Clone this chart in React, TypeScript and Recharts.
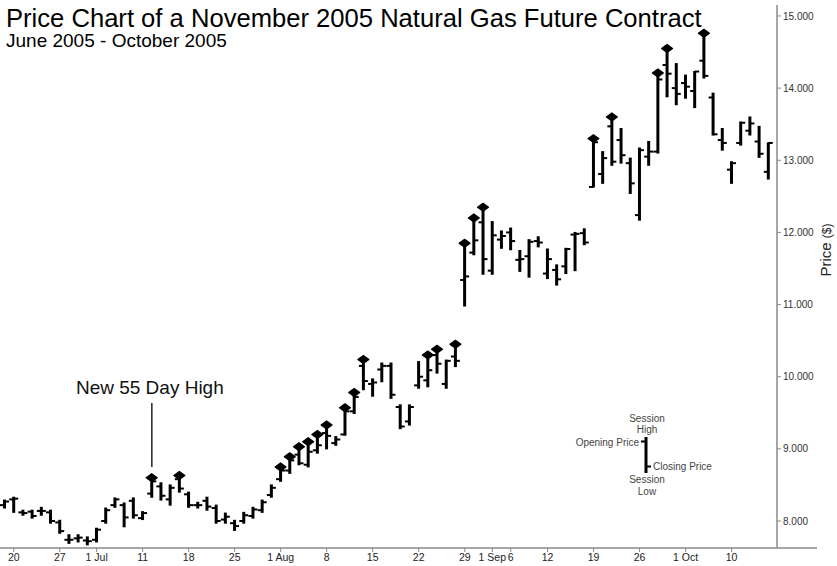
import React from 'react';
import { ComposedChart, Bar, XAxis, YAxis, ReferenceLine } from 'recharts';

const FONT = '"Liberation Sans", Arial, Helvetica, sans-serif';

// Trading days (Jun 17 2005 - Oct 14 2005)
const dates = [
  'Jun 17', 'Jun 20', 'Jun 21', 'Jun 22', 'Jun 23', 'Jun 24', 'Jun 27', 'Jun 28', 'Jun 29', 'Jun 30',
  'Jul 1', 'Jul 5', 'Jul 6', 'Jul 7', 'Jul 8', 'Jul 11', 'Jul 12', 'Jul 13', 'Jul 14', 'Jul 15',
  'Jul 18', 'Jul 19', 'Jul 20', 'Jul 21', 'Jul 22', 'Jul 25', 'Jul 26', 'Jul 27', 'Jul 28', 'Jul 29',
  'Aug 1', 'Aug 2', 'Aug 3', 'Aug 4', 'Aug 5', 'Aug 8', 'Aug 9', 'Aug 10', 'Aug 11', 'Aug 12',
  'Aug 15', 'Aug 16', 'Aug 17', 'Aug 18', 'Aug 19', 'Aug 22', 'Aug 23', 'Aug 24', 'Aug 25', 'Aug 26',
  'Aug 29', 'Aug 30', 'Aug 31', 'Sep 1', 'Sep 2', 'Sep 6', 'Sep 7', 'Sep 8', 'Sep 9', 'Sep 12',
  'Sep 13', 'Sep 14', 'Sep 15', 'Sep 16', 'Sep 19', 'Sep 20', 'Sep 21', 'Sep 22', 'Sep 23', 'Sep 26',
  'Sep 27', 'Sep 28', 'Sep 29', 'Sep 30', 'Oct 3', 'Oct 4', 'Oct 5', 'Oct 6', 'Oct 7', 'Oct 10',
  'Oct 11', 'Oct 12', 'Oct 13', 'Oct 14',
];

const opens = [
  8.22, 8.30, 8.12, 8.13, 8.14, 8.12, 7.98, 7.74, 7.76, 7.73,
  7.74, 8.00, 8.22, 8.22, 8.28, 8.04, 8.38, 8.48, 8.30, 8.58,
  8.37, 8.22, 8.28, 8.18, 8.02, 7.97, 8.00, 8.07, 8.15, 8.36,
  8.58, 8.70, 8.92, 8.78, 8.98, 9.22, 9.08, 9.20, 9.52, 10.15,
  9.90, 10.10, 10.15, 9.58, 9.38, 9.88, 9.95, 10.30, 9.90, 10.28,
  11.34, 11.72, 12.14, 11.47, 11.90, 12.00, 11.62, 11.67, 11.88, 11.43,
  11.48, 11.53, 11.97, 11.99, 12.63, 12.81, 13.47, 13.28, 12.96, 12.24,
  13.05, 13.12, 14.32, 14.00, 14.07, 13.96, 14.38, 13.87, 13.28, 12.87,
  13.24, 13.41, 13.26, 12.84,
];

const highs = [
  8.29, 8.33, 8.15, 8.15, 8.19, 8.15, 8.01, 7.81, 7.81, 7.78,
  7.90, 8.18, 8.32, 8.25, 8.32, 8.13, 8.60, 8.53, 8.50, 8.63,
  8.40, 8.26, 8.33, 8.22, 8.11, 8.01, 8.12, 8.19, 8.29, 8.50,
  8.75, 8.89, 9.03, 9.10, 9.20, 9.33, 9.17, 9.57, 9.78, 10.24,
  9.97, 10.19, 10.19, 9.61, 9.61, 10.21, 10.30, 10.38, 10.23, 10.45,
  11.85, 12.20, 12.35, 12.15, 12.02, 12.06, 11.75, 11.90, 11.94, 11.77,
  11.55, 11.78, 12.00, 12.05, 13.30, 13.12, 13.60, 13.44, 13.03, 13.17,
  13.26, 14.21, 14.55, 14.34, 14.18, 14.23, 14.76, 13.93, 13.44, 12.98,
  13.53, 13.60, 13.47, 13.24,
];

const lows = [
  8.18, 8.12, 8.08, 8.04, 8.08, 7.97, 7.83, 7.69, 7.71, 7.67,
  7.71, 7.97, 8.19, 7.92, 8.04, 8.02, 8.33, 8.29, 8.22, 8.40,
  8.19, 8.18, 8.15, 7.97, 7.97, 7.87, 7.97, 8.04, 8.12, 8.33,
  8.55, 8.66, 8.78, 8.75, 8.94, 9.00, 9.05, 9.19, 9.49, 9.82,
  9.73, 9.93, 9.70, 9.28, 9.33, 9.84, 9.86, 10.05, 9.84, 10.14,
  10.98, 11.69, 11.42, 11.42, 11.78, 11.76, 11.46, 11.38, 11.80, 11.36,
  11.27, 11.43, 11.47, 11.83, 12.63, 12.68, 12.93, 12.96, 12.54, 12.17,
  12.93, 13.10, 13.88, 13.77, 13.86, 13.73, 14.14, 13.35, 13.14, 12.68,
  13.21, 13.35, 13.04, 12.74,
];

const closes = [
  8.27, 8.31, 8.11, 8.07, 8.14, 8.00, 7.86, 7.74, 7.77, 7.72,
  7.88, 8.15, 8.30, 8.05, 8.08, 8.11, 8.55, 8.35, 8.46, 8.45,
  8.22, 8.22, 8.20, 8.00, 8.06, 7.93, 8.08, 8.16, 8.26, 8.46,
  8.70, 8.84, 8.80, 8.96, 9.05, 9.18, 9.13, 9.52, 9.72, 9.94,
  9.92, 10.15, 9.75, 9.31, 9.58, 10.00, 10.09, 10.18, 10.22, 10.22,
  11.39, 11.89, 11.63, 11.96, 11.95, 11.88, 11.63, 11.87, 11.86, 11.63,
  11.35, 11.77, 11.98, 11.86, 13.25, 13.03, 12.98, 13.07, 12.68, 13.14,
  13.12, 14.12, 14.20, 13.92, 14.02, 14.23, 14.17, 13.36, 13.24, 12.96,
  13.52, 13.51, 13.09, 13.24,
];

// Sessions that set a new 55-day high (marked with a diamond)
const newHighDates = [
  'Jul 12', 'Jul 15', 'Aug 1', 'Aug 2', 'Aug 3', 'Aug 4', 'Aug 5', 'Aug 8', 'Aug 10', 'Aug 11',
  'Aug 12', 'Aug 23', 'Aug 24', 'Aug 26', 'Aug 29', 'Aug 30', 'Aug 31', 'Sep 19', 'Sep 21',
  'Sep 28', 'Sep 29', 'Oct 5',
];

const xTickDates = ['Jun 20', 'Jun 27', 'Jul 1', 'Jul 11', 'Jul 18', 'Jul 25', 'Aug 1', 'Aug 8', 'Aug 15',
  'Aug 22', 'Aug 29', 'Sep 1', 'Sep 6', 'Sep 12', 'Sep 19', 'Sep 26', 'Oct 3', 'Oct 10'];
const xTickLabels = ['20', '27', '1 Jul', '11', '18', '25', '1 Aug', '8', '15',
  '22', '29', '1 Sep', '6', '12', '19', '26', '1 Oct', '10'];

const yTicks = [8, 9, 10, 11, 12, 13, 14, 15];
const yDomain: [number, number] = [7.626, 15.152];

const annotationDate = 'Jul 12';
const annotationRange = [8.75, 9.635];

const data = dates.map((d, i) => ({
  date: d,
  open: opens[i],
  high: highs[i],
  low: lows[i],
  close: closes[i],
  range: [lows[i], highs[i]],
  newHigh: newHighDates.includes(d),
}));

const OhlcShape = (props: any) => {
  const { x, y, width, height, payload } = props;
  if (!payload || x == null || y == null) return null;
  const top = Math.min(y, y + height);
  const h = Math.abs(height);
  const cx = x + width / 2;
  const span = payload.high - payload.low || 1;
  const yOf = (v: number) => top + ((payload.high - v) / span) * h;
  const yo = yOf(payload.open);
  const yc = yOf(payload.close);
  return (
    <g>
      <line x1={cx} x2={cx} y1={top - 0.5} y2={top + h + 0.5} stroke="#000" strokeWidth={3} />
      <line x1={cx - 4.5} x2={cx} y1={yo} y2={yo} stroke="#000" strokeWidth={2} />
      <line x1={cx} x2={cx + 4.5} y1={yc} y2={yc} stroke="#000" strokeWidth={2} />
      {payload.newHigh && (
        <polygon
          points={`${cx},${top - 4} ${cx + 5.5},${top} ${cx},${top + 4} ${cx - 5.5},${top}`}
          fill="#000"
          stroke="#000"
          strokeWidth={1.2}
          strokeLinejoin="round"
        />
      )}
    </g>
  );
};

const PriceLabel = (props: any) => {
  const vb = props.viewBox || { x: 777, y: 5, width: 60, height: 543 };
  const cx = vb.x + 54;
  const cy = vb.y + 245;
  return (
    <text
      x={cx}
      y={cy}
      transform={`rotate(-90, ${cx}, ${cy})`}
      textAnchor="middle"
      fontFamily={FONT}
      fontSize={15}
      fill="#222"
    >
      Price <tspan fontSize={12}>($)</tspan>
    </text>
  );
};

const AnnotationLabel = (props: any) => {
  const vb = props.viewBox;
  if (!vb) return null;
  const cx = vb.x + (vb.width || 0) / 2 - 2;
  const top = Math.min(vb.y, vb.y + (vb.height || 0));
  return (
    <text x={cx} y={top - 9} textAnchor="middle" fontFamily={FONT} fontSize={19} fill="#111">
      New 55 Day High
    </text>
  );
};

const tickLabelMap: Record<string, string> = {};
xTickDates.forEach((d, i) => {
  tickLabelMap[d] = xTickLabels[i];
});

export default function App() {
  return (
    <div style={{ position: 'absolute', left: 0, top: 0, width: 837, height: 566, background: '#fff' }}>
      <ComposedChart
        width={837}
        height={566}
        data={data}
        margin={{ top: 5, right: 0, left: 0, bottom: 0 }}
        barCategoryGap={1}
        style={{ fontFamily: FONT }}
      >
        <XAxis
          dataKey="date"
          type="category"
          ticks={xTickDates}
          interval={0}
          tickFormatter={(v: string) => tickLabelMap[v] ?? ''}
          tick={{ fontSize: 10.5, fill: '#222', fontFamily: FONT }}
          tickSize={4}
          tickMargin={2}
          height={18}
          padding={{ left: 0, right: 4 }}
          axisLine={{ stroke: '#8a8a8a', strokeWidth: 1.5 }}
          tickLine={{ stroke: '#8a8a8a' }}
        />
        <YAxis
          orientation="right"
          type="number"
          domain={yDomain}
          allowDataOverflow
          ticks={yTicks}
          interval={0}
          tickFormatter={(v: number) => v.toFixed(3)}
          tick={{ fontSize: 10, fill: '#333', fontFamily: FONT }}
          tickSize={4}
          tickMargin={2}
          width={60}
          axisLine={{ stroke: '#8a8a8a', strokeWidth: 1.5 }}
          tickLine={{ stroke: '#8a8a8a' }}
          label={<PriceLabel />}
        />
        <Bar dataKey="range" isAnimationActive={false} shape={(p: any) => <OhlcShape {...p} />} />
        <ReferenceLine
          segment={[
            { x: annotationDate, y: annotationRange[1] },
            { x: annotationDate, y: annotationRange[0] },
          ]}
          stroke="#222"
          strokeWidth={1.5}
          ifOverflow="visible"
          label={<AnnotationLabel />}
        />
      </ComposedChart>
      <svg
        width={837}
        height={566}
        style={{ position: 'absolute', left: 0, top: 0, pointerEvents: 'none' }}
      >
        <text x={6} y={27} fontFamily={FONT} fontSize={25.6} fill="#000">
          Price Chart of a November 2005 Natural Gas Future Contract
        </text>
        <text x={6} y={47} fontFamily={FONT} fontSize={19} fill="#000">
          June 2005 - October 2005
        </text>
        <line x1={777} x2={817} y1={548} y2={548} stroke="#8a8a8a" strokeWidth={1.5} />
        <g fontFamily={FONT} fontSize={10} fill="#444">
          <text x={647} y={422} textAnchor="middle">Session</text>
          <text x={647} y={433} textAnchor="middle">High</text>
          <text x={639} y={445.5} textAnchor="end">Opening Price</text>
          <text x={653} y={470} textAnchor="start">Closing Price</text>
          <text x={647} y={483} textAnchor="middle">Session</text>
          <text x={647} y={494.5} textAnchor="middle">Low</text>
        </g>
        <line x1={646} x2={646} y1={437} y2={473} stroke="#000" strokeWidth={3} />
        <line x1={641} x2={646} y1={441.5} y2={441.5} stroke="#000" strokeWidth={2} />
        <line x1={646} x2={651} y1={466.5} y2={466.5} stroke="#000" strokeWidth={2} />
      </svg>
    </div>
  );
}
